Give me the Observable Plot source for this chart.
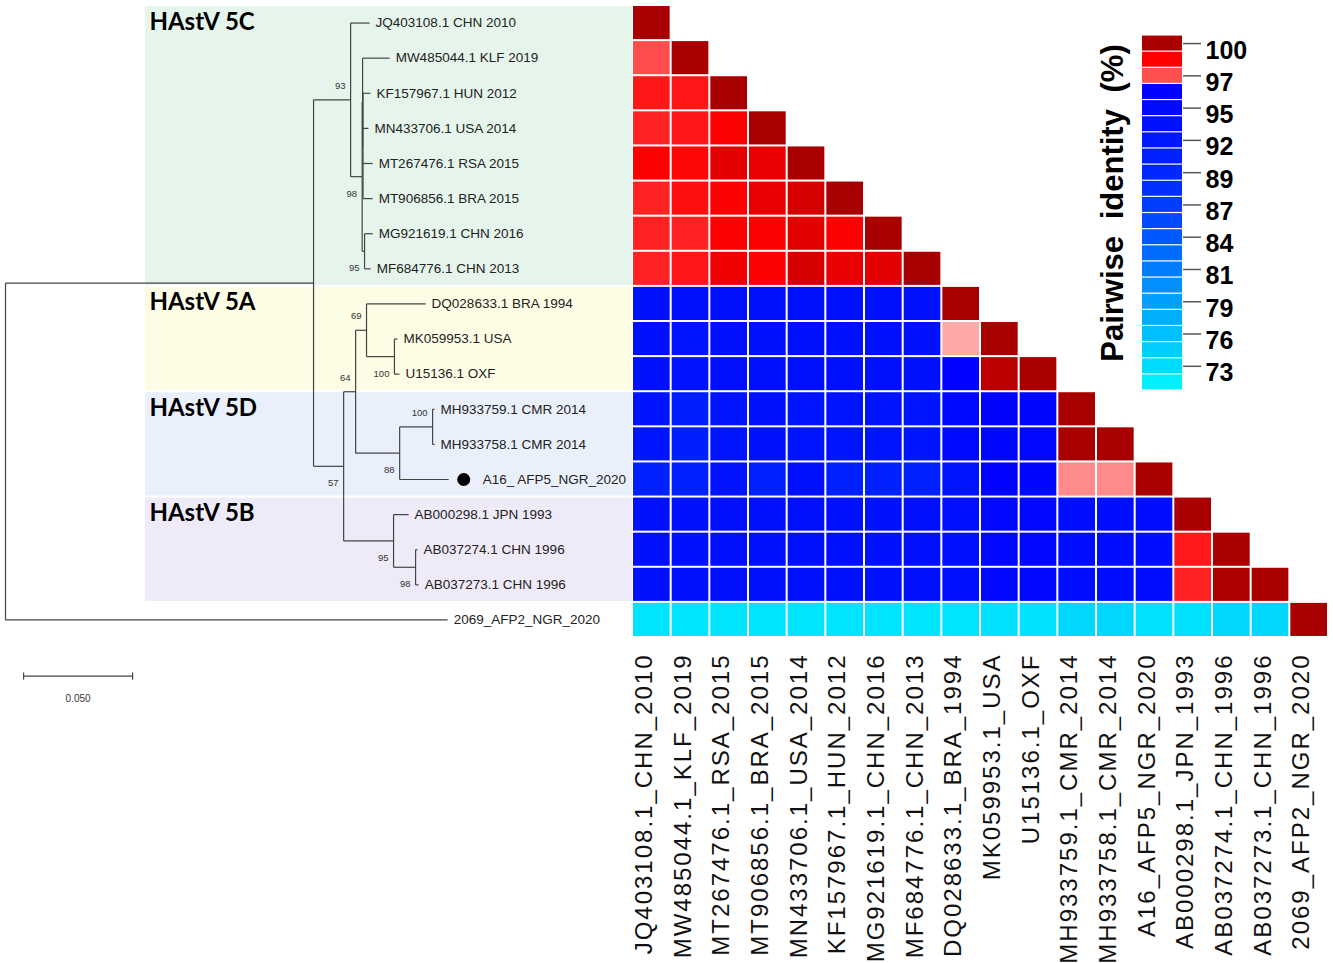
<!DOCTYPE html>
<html><head><meta charset="utf-8">
<script src="https://cdn.jsdelivr.net/npm/d3@7"></script>
<script src="https://cdn.jsdelivr.net/npm/@observablehq/plot@0.6"></script>
<style>
html,body{margin:0;padding:0;background:#fff;}
#chart{position:relative;width:1333px;height:963px;overflow:hidden;}
#chart svg{position:absolute;left:0;top:0;}
svg.heatplot text{letter-spacing:2px;}
svg.legendplot text{word-spacing:8px;}
</style></head><body><div id="chart"></div>
<script>
// ---------------- DATA ----------------
// Tree (node name, parent, branch length in substitutions/site, bootstrap)
const treeNode = ["root","IN","C","JQ403108.1 CHN 2010","N98","X","MW485044.1 KLF 2019","Y","KF157967.1 HUN 2012","MN433706.1 USA 2014","MT267476.1 RSA 2015","MT906856.1 BRA 2015","N95","MG921619.1 CHN 2016","MF684776.1 CHN 2013","ADB","AD","A","DQ028633.1 BRA 1994","A100","MK059953.1 USA","U15136.1 OXF","D","D100","MH933759.1 CMR 2014","MH933758.1 CMR 2014","A16_ AFP5_NGR_2020","B","AB000298.1 JPN 1993","B98","AB037274.1 CHN 1996","AB037273.1 CHN 1996","2069_AFP2_NGR_2020"];
const treeParent = [null,"root","IN","C","C","N98","X","X","Y","Y","Y","Y","N98","N95","N95","IN","ADB","AD","A","A","A100","A100","AD","D","D100","D100","D","ADB","B","B","B98","B98","root"];
const branchLength = [0,0.1413,0.0170,0.0087,0.0053,0.0002,0.0124,0.0002,0.0034,0.0025,0.0044,0.0044,0.0011,0.0037,0.0028,0.0138,0.0055,0.0050,0.0271,0.0128,0.0014,0.0023,0.0202,0.0151,0.0009,0.0009,0.0225,0.0229,0.0069,0.0101,0.0009,0.0014,0.2028];
const bootstrap = [null,null,93,null,98,null,null,null,null,null,null,null,95,null,null,57,64,69,null,100,null,null,88,100,null,null,null,95,null,98,null,null,null];
const markedLeaves = ["A16_ AFP5_NGR_2020"];

// Clades
const cladeNames = ["HAstV 5C","HAstV 5A","HAstV 5D","HAstV 5B"];
const cladeFirstLeaf = [0, 8, 11, 14];
const cladeLastLeaf = [7, 10, 13, 16];

// Scale bar
const scaleBarLength = 0.05;
const scaleBarLabel = "0.050";

// Heatmap columns (SDT order)
const heatColumns = ["JQ403108.1_CHN_2010","MW485044.1_KLF_2019","MT267476.1_RSA_2015","MT906856.1_BRA_2015","MN433706.1_USA_2014","KF157967.1_HUN_2012","MG921619.1_CHN_2016","MF684776.1_CHN_2013","DQ028633.1_BRA_1994","MK059953.1_USA","U15136.1_OXF","MH933759.1_CMR_2014","MH933758.1_CMR_2014","A16_AFP5_NGR_2020","AB000298.1_JPN_1993","AB037274.1_CHN_1996","AB037273.1_CHN_1996","2069_AFP2_NGR_2020"];

// Pairwise identity (%), lower triangle, one row per tree leaf
const identity = [
  [100],
  [97.4,100],
  [98.3,98.3,100],
  [98.1,98.3,98.7,100],
  [98.7,98.55,99.1,99.0,100],
  [98.1,98.4,98.7,99.0,99.3,100],
  [98.1,98.1,98.7,98.7,99.1,98.7,100],
  [98.1,98.3,98.9,98.7,99.3,99.0,99.1,100],
  [93.4,93.5,93.4,93.5,93.4,93.5,93.4,93.3,100],
  [93.5,92.8,93.4,93.5,93.4,93.5,93.4,93.3,96.6,100],
  [93.4,93.2,93.4,93.5,93.4,93.5,93.4,93.3,96.3,99.7,100],
  [93.1,90.8,92.8,93.3,92.9,93.0,93.0,92.5,94.7,95.8,95.2,100],
  [93.0,90.8,92.8,93.3,92.9,93.0,93.0,92.5,94.8,95.1,95.0,100,100],
  [90.6,90.5,93.2,90.5,93.5,90.6,90.5,90.6,93.0,96.0,95.2,96.85,96.85,100],
  [93.4,93.3,93.5,93.4,93.5,93.4,93.3,93.4,93.6,95.0,95.0,94.0,94.0,94.1,100],
  [93.5,93.3,93.5,93.4,93.5,93.4,93.3,93.4,93.6,95.0,95.0,94.0,94.0,94.1,98.25,100],
  [93.5,93.3,93.5,93.4,93.5,93.4,93.3,93.4,93.6,95.0,95.0,94.0,94.0,94.1,98.1,99.9,100],
  [72.8,72.8,72.8,72.8,72.8,72.8,72.8,72.8,72.8,72.9,72.9,73.8,73.8,73.0,73.0,73.8,73.8,100]
];

// Legend
const legendTitle = "Pairwise identity (%)";
const legendBins = [100,98.67,97.33,96,94.67,93.33,92,90.67,89.33,88,86.67,85.33,84,82.67,81.33,80,78.67,77.33,76,74.67,73.33,72];
const legendTickValues = [100,97.33,94.67,92,89.33,86.67,84,81.33,78.67,76,73.33];
const legendTickLabels = ["100","97","95","92","89","87","84","81","79","76","73"];

// ---------------- STYLE / LAYOUT ----------------
const W = 1333, H = 963;
const ROW_TOP = 5, ROW_BOTTOM = 637;
const TREE_LEFT = 5, TREE_RIGHT = 632;
const HEAT_LEFT = 632, HEAT_RIGHT = 1328;
const LEG_LEFT = 1142, LEG_RIGHT = 1182, LEG_TOP = 35, LEG_BOTTOM = 390;
const TREE_MAX_DEPTH = 0.2876;   // depth shown at the right edge of the tree panel
const CLADE_BOX_START = 0.0642;  // depth where clade boxes start
const SCALEBAR_START = 0.0083;
const SCALEBAR_ROW = 18.6;
const CLADE_FILL = {"HAstV 5C":"#e6f5ec","HAstV 5A":"#fdfde5","HAstV 5D":"#eaf0fb","HAstV 5B":"#efeaf7"};
const FONT = "'Liberation Sans', Arial, sans-serif";
const colorScale = {
  type: "linear",
  domain: [72, 73.3, 76, 80, 84, 88, 92, 96.45, 96.5, 97.33, 98.67, 100],
  range: ["#00f0ff","#00dcff","#00c0ff","#0090ff","#0058ff","#0030ff","#0018ff","#0000ff","#ffb4b4","#ff5050","#ff0000","#a80000"],
  interpolate: "rgb"
};

// ---------------- TREE LAYOUT ----------------
const idx = new Map(treeNode.map((d, i) => [d, i]));
const children = new Map(treeNode.map(d => [d, []]));
treeParent.forEach((p, i) => { if (p != null) children.get(p).push(treeNode[i]); });
const depth = new Map(), ypos = new Map();
let leafCounter = 0;
function walk(n, d) {
  depth.set(n, d);
  const ch = children.get(n);
  if (!ch.length) { ypos.set(n, leafCounter++); return; }
  ch.forEach(c => walk(c, d + branchLength[idx.get(c)]));
  ypos.set(n, (ypos.get(ch[0]) + ypos.get(ch[ch.length - 1])) / 2);
}
walk("root", 0);

const segments = [];
treeNode.forEach((n, i) => {
  const p = treeParent[i];
  if (p != null) segments.push({x1: depth.get(p), x2: depth.get(n), y1: ypos.get(n), y2: ypos.get(n)});
  const ch = children.get(n);
  if (ch.length) segments.push({x1: depth.get(n), x2: depth.get(n), y1: ypos.get(ch[0]), y2: ypos.get(ch[ch.length - 1])});
});
const leaves = treeNode.filter(n => children.get(n).length === 0)
  .map(n => ({name: n, x: depth.get(n), y: ypos.get(n)}));
const supports = treeNode.map((n, i) => ({name: n, value: bootstrap[i], x: depth.get(n), y: ypos.get(n),
  upper: treeParent[i] != null && children.get(treeParent[i])[0] === n})).filter(d => d.value != null);
const clades = cladeNames.map((name, i) => ({name, first: cladeFirstLeaf[i], last: cladeLastLeaf[i]}));

const treePlot = Plot.plot({
  width: W, height: H,
  marginLeft: TREE_LEFT, marginRight: W - TREE_RIGHT, marginTop: ROW_TOP, marginBottom: H - ROW_BOTTOM,
  x: {domain: [0, TREE_MAX_DEPTH], axis: null},
  y: {domain: [-0.5, 17.5], reverse: true, axis: null},
  style: {background: "transparent", fontFamily: FONT},
  marks: [
    Plot.rect(clades, {x1: CLADE_BOX_START, x2: TREE_MAX_DEPTH, y1: d => d.first - 0.5, y2: d => d.last + 0.5,
      fill: d => CLADE_FILL[d.name], insetTop: 1, insetBottom: 1}),
    Plot.text(clades, {x: CLADE_BOX_START, y: d => d.first - 0.5, text: "name", dx: 4, dy: 7,
      textAnchor: "start", lineAnchor: "top", fontSize: 24, fontWeight: "bold", fontFamily: "Lato, 'Open Sans', sans-serif", fill: "#000"}),
    Plot.link(segments, {x1: "x1", x2: "x2", y1: "y1", y2: "y2", stroke: "#444", strokeWidth: 1.2}),
    Plot.text(leaves.filter(d => !markedLeaves.includes(d.name)), {x: "x", y: "y", text: "name", dx: 6,
      textAnchor: "start", fontSize: 13.5, fill: "#222"}),
    Plot.dot(leaves.filter(d => markedLeaves.includes(d.name)), {x: "x", y: "y", dx: 15, r: 6.5, fill: "#000"}),
    Plot.text(leaves.filter(d => markedLeaves.includes(d.name)), {x: "x", y: "y", text: "name", dx: 34,
      textAnchor: "start", fontSize: 13.5, fill: "#222"}),
    Plot.text(supports.filter(d => d.upper), {x: "x", y: "y", text: "value", dx: -5, dy: -14,
      textAnchor: "end", fontSize: 9.5, fill: "#333"}),
    Plot.text(supports.filter(d => !d.upper), {x: "x", y: "y", text: "value", dx: -5, dy: 17,
      textAnchor: "end", fontSize: 9.5, fill: "#333"}),
    Plot.link([scaleBarLength], {x1: SCALEBAR_START, x2: d => SCALEBAR_START + d, y1: SCALEBAR_ROW, y2: SCALEBAR_ROW,
      stroke: "#444", strokeWidth: 1.2}),
    Plot.link([0, scaleBarLength], {x1: d => SCALEBAR_START + d, x2: d => SCALEBAR_START + d,
      y1: SCALEBAR_ROW - 0.1, y2: SCALEBAR_ROW + 0.1, stroke: "#444", strokeWidth: 1.2}),
    Plot.text([scaleBarLabel], {x: SCALEBAR_START + scaleBarLength / 2, y: SCALEBAR_ROW, dy: 23,
      fontSize: 10, fill: "#333"})
  ]
});

// ---------------- HEATMAP ----------------
const cells = identity.flatMap((row, i) => row.map((v, j) => ({row: i, col: heatColumns[j], value: v})));
const heatPlot = Plot.plot({
  className: "heatplot",
  width: W, height: H,
  marginLeft: HEAT_LEFT, marginRight: W - HEAT_RIGHT, marginTop: ROW_TOP, marginBottom: H - ROW_BOTTOM,
  x: {domain: heatColumns, padding: 0, round: false, axis: null},
  y: {domain: identity.map((_, i) => i), padding: 0, round: false, axis: null},
  color: colorScale,
  style: {background: "transparent", fontFamily: FONT},
  marks: [
    Plot.cell(cells, {x: "col", y: "row", fill: "value", inset: 1}),
    Plot.text(heatColumns, {x: d => d, frameAnchor: "bottom", rotate: -90, textAnchor: "end", dy: 16,
      fontSize: 24, fill: "#111"})
  ]
});

// ---------------- LEGEND ----------------
const legendPlot = Plot.plot({
  className: "legendplot",
  width: W, height: H,
  marginLeft: LEG_LEFT, marginRight: W - LEG_RIGHT, marginTop: LEG_TOP, marginBottom: H - LEG_BOTTOM,
  y: {domain: legendBins, padding: 0, round: false, axis: null},
  color: colorScale,
  style: {background: "transparent", fontFamily: FONT},
  marks: [
    Plot.cell(legendBins, {y: d => d, fill: d => d, insetTop: 0.6, insetBottom: 0.6}),
    Plot.axisY(legendTickValues, {anchor: "right", tickSize: 18, tickFormat: () => "", stroke: "#555", strokeWidth: 1.5, label: null}),
    Plot.text(legendTickValues, {y: d => d, text: (d, i) => legendTickLabels[i], frameAnchor: "right", dx: 23, dy: 7,
      textAnchor: "start", fontSize: 25, fontWeight: "bold", fill: "#000"}),
    Plot.text([legendTitle], {frameAnchor: "left", dx: -29, dy: -10, rotate: -90, textAnchor: "middle", fontSize: 31,
      fontWeight: "bold", fill: "#000"})
  ]
});

const chart = document.getElementById("chart");
chart.append(treePlot, heatPlot, legendPlot);
</script>
</body></html>
